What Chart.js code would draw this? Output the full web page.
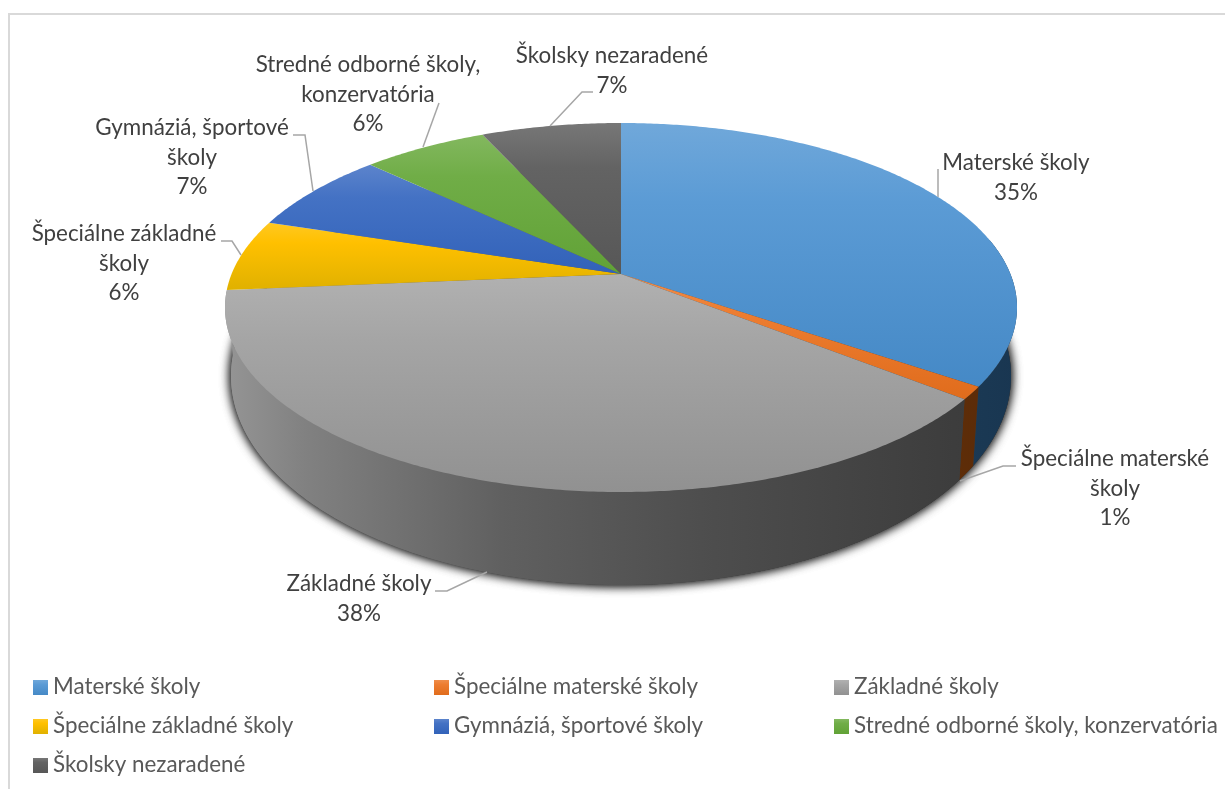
<!DOCTYPE html>
<html>
<head>
<meta charset="utf-8">
<script src="https://cdn.jsdelivr.net/npm/chart.js@4"></script>
<style>
html, body { margin: 0; padding: 0; background: #fff; }
#wrap { position: absolute; left: 0; top: 0; width: 1225px; height: 789px; }
</style>
</head>
<body>
<div id="wrap"><canvas id="ChartCanvas" width="1225" height="789"></canvas></div>
<script>
// values, percent of the whole
const categories = ['Materské školy', 'Špeciálne materské školy', 'Základné školy', 'Špeciálne základné školy', 'Gymnáziá, športové školy', 'Stredné odborné školy, konzervatória', 'Školsky nezaradené'];
const shares = [34.6, 1.1, 37.9, 6.3, 7.2, 6.1, 6.8];
const baseColors = ['#5b9bd5', '#ed7d31', '#a5a5a5', '#ffc000', '#4472c4', '#70ad47', '#636363'];

// label text centre x, first line y, then the leader polyline
const labelSpots = [
	{ x: 1016, y: 163, line: [[938, 197], [938, 169]] },
	{ x: 1115, y: 459, line: [[960, 481], [1003, 466], [1016, 466]] },
	{ x: 359, y: 584, line: [[487, 572], [447, 591], [435, 591]] },
	{ x: 124, y: 234, line: [[241, 255], [232, 241], [221, 241]] },
	{ x: 192, y: 128, line: [[313, 191], [305, 135], [293, 135]] },
	{ x: 368, y: 65, line: [[423, 147], [439, 103]] },
	{ x: 612, y: 56, line: [[550, 126], [582, 92], [593, 92]] }
];
const legendCols = [33, 434, 834];
const legendRows = [687, 726, 765];

// the pie is tilted: top face and bottom rim are two projected circles
const topRim = { x: 621, cy: 307.5, rx: 396, ry: 184.5 };
const bottomRim = { x: 621, cy: 376, rx: 390, ry: 209 };
const tilt = -0.1816;

function makeProjection(rim) {
	let yBack = rim.cy - rim.ry, yFront = rim.cy + rim.ry;
	let b = (yFront * (1 + tilt) + yBack * (1 - tilt)) / 2;
	let a = yFront * (1 + tilt) - b;
	let k = rim.rx * Math.sqrt(1 - tilt * tilt);
	return function (angle, r) {
		let u = Math.cos(angle) * r, v = Math.sin(angle) * r;
		let w = 1 + tilt * v;
		return [rim.x + k * u / w, (a * v + b) / w];
	};
}
const projTop = makeProjection(topRim);
const projBottom = makeProjection(bottomRim);

function hexRgb(h) {
	return [1, 3, 5].map(function (i) { return parseInt(h.substr(i, 2), 16); });
}
function saturated(hex, amount, f) {
	let c = hexRgb(hex);
	let lum = (c[0] + c[1] + c[2]) / 3;
	return 'rgb(' + c.map(function (x) {
		let s = Math.max(0, Math.min(255, lum + (x - lum) * amount));
		return Math.round(s * f);
	}).join(',') + ')';
}
function lighter(hex, f) {
	return 'rgb(' + hexRgb(hex).map(function (x) { return Math.round(x + (255 - x) * f); }).join(',') + ')';
}
function faceFill(ctx, hex, y0, y1) {
	let g = ctx.createLinearGradient(0, y0, 0, y1);
	g.addColorStop(0, lighter(hex, 0.13));
	g.addColorStop(0.3, hex);
	g.addColorStop(1, saturated(hex, 1.2, 0.88));
	return g;
}
function wallFill(ctx, hex) {
	let g = ctx.createLinearGradient(225, 0, 1017, 0);
	g.addColorStop(0, saturated(hex, 1.3, 0.9));
	g.addColorStop(0.1, saturated(hex, 1.3, 0.78));
	g.addColorStop(0.35, saturated(hex, 1.3, 0.58));
	g.addColorStop(0.6, saturated(hex, 1.3, 0.47));
	g.addColorStop(0.92, saturated(hex, 1.3, 0.37));
	g.addColorStop(1, saturated(hex, 1.3, 0.35));
	return g;
}
function arcPoints(proj, a0, a1) {
	let pts = [];
	let n = Math.max(2, Math.ceil((a1 - a0) / 0.01));
	for (let i = 0; i <= n; i++) pts.push(proj(a0 + (a1 - a0) * i / n, 1));
	return pts;
}
function tracePath(ctx, pts) {
	ctx.beginPath();
	pts.forEach(function (p, i) { if (i) ctx.lineTo(p[0], p[1]); else ctx.moveTo(p[0], p[1]); });
	ctx.closePath();
}

const tiltedPie = {
	id: 'tiltedPie',
	beforeDatasetDraw: function (chart, args) {
		let ctx = chart.ctx;
		let arcs = args.meta.data;
		ctx.save();

		// bottom rim with its soft shadow, also fills the wall where no strip is drawn
		ctx.save();
		ctx.shadowColor = 'rgba(0,0,0,0.85)';
		ctx.shadowBlur = 11;
		ctx.fillStyle = wallFill(ctx, baseColors[2]);
		for (let pass = 0; pass < 2; pass++) {
			tracePath(ctx, arcPoints(projBottom, 0, Math.PI * 2));
			ctx.fill();
		}
		ctx.restore();

		// wall strips, only for slices that face the viewer
		arcs.forEach(function (arc, i) {
			let mid = (arc.startAngle + arc.endAngle) / 2;
			if (arc.endAngle <= 0 || mid >= Math.PI) return;
			let a0 = Math.max(arc.startAngle, -0.2);
			let top = arcPoints(projTop, a0, arc.endAngle);
			let bot = arcPoints(projBottom, a0, arc.endAngle).reverse();
			tracePath(ctx, top.concat(bot));
			ctx.fillStyle = wallFill(ctx, baseColors[i]);
			ctx.fill();
		});

		arcs.forEach(function (arc, i) {
			let rim = arcPoints(projTop, arc.startAngle, arc.endAngle);
			let hub = projTop(0, 0);
			let pts = [hub].concat(rim);
			let ys = pts.map(function (p) { return p[1]; });
			tracePath(ctx, pts);
			ctx.fillStyle = faceFill(ctx, baseColors[i], Math.min.apply(null, ys), Math.max.apply(null, ys));
			ctx.fill();
		});
		ctx.restore();
		return false;
	}
};

function wrapLabel(ctx, text, maxW) {
	let lines = [], cur = '';
	text.split(' ').forEach(function (w) {
		let t = cur ? cur + ' ' + w : w;
		if (ctx.measureText(t).width > maxW && cur) { lines.push(cur); cur = w; } else cur = t;
	});
	lines.push(cur);
	return lines;
}

const pieLabels = {
	id: 'pieLabels',
	afterDraw: function (chart) {
		let ctx = chart.ctx;
		let total = shares.reduce(function (s, v) { return s + v; }, 0);
		ctx.save();

		// frame, only top and left are inside the crop
		ctx.fillStyle = '#d9d9d9';
		ctx.fillRect(8, 13, 1217, 2);
		ctx.fillRect(8, 13, 2, 776);

		ctx.font = '22.4px Lato';
		ctx.textAlign = 'center';
		ctx.textBaseline = 'middle';
		labelSpots.forEach(function (s, i) {
			ctx.strokeStyle = '#a6a6a6';
			ctx.lineWidth = 1.5;
			ctx.beginPath();
			s.line.forEach(function (p, j) { if (j) ctx.lineTo(p[0], p[1]); else ctx.moveTo(p[0], p[1]); });
			ctx.stroke();
			ctx.fillStyle = '#404040';
			let lines = wrapLabel(ctx, categories[i], 232);
			lines.push(Math.round(shares[i] / total * 100) + '%');
			lines.forEach(function (t, j) { ctx.fillText(t, s.x, s.y + j * 29.5); });
		});

		// legend in three columns
		ctx.textAlign = 'left';
		categories.forEach(function (name, i) {
			let x = legendCols[i % 3], y = legendRows[Math.floor(i / 3)];
			ctx.fillStyle = faceFill(ctx, baseColors[i], y - 7, y + 8);
			ctx.fillRect(x, y - 7, 15, 15);
			ctx.fillStyle = '#595959';
			ctx.fillText(name, x + 20, y);
		});
		ctx.restore();
	}
};

var ctx = document.getElementById('ChartCanvas').getContext('2d');
var chart = new Chart(ctx, {
	type: 'pie',
	data: {
		labels: categories,
		datasets: [{ data: shares, backgroundColor: baseColors, borderWidth: 0 }]
	},
	options: {
		responsive: false,
		animation: false,
		plugins: { legend: { display: false }, tooltip: { enabled: false } }
	},
	plugins: [tiltedPie, pieLabels]
});
</script>
</body>
</html>
